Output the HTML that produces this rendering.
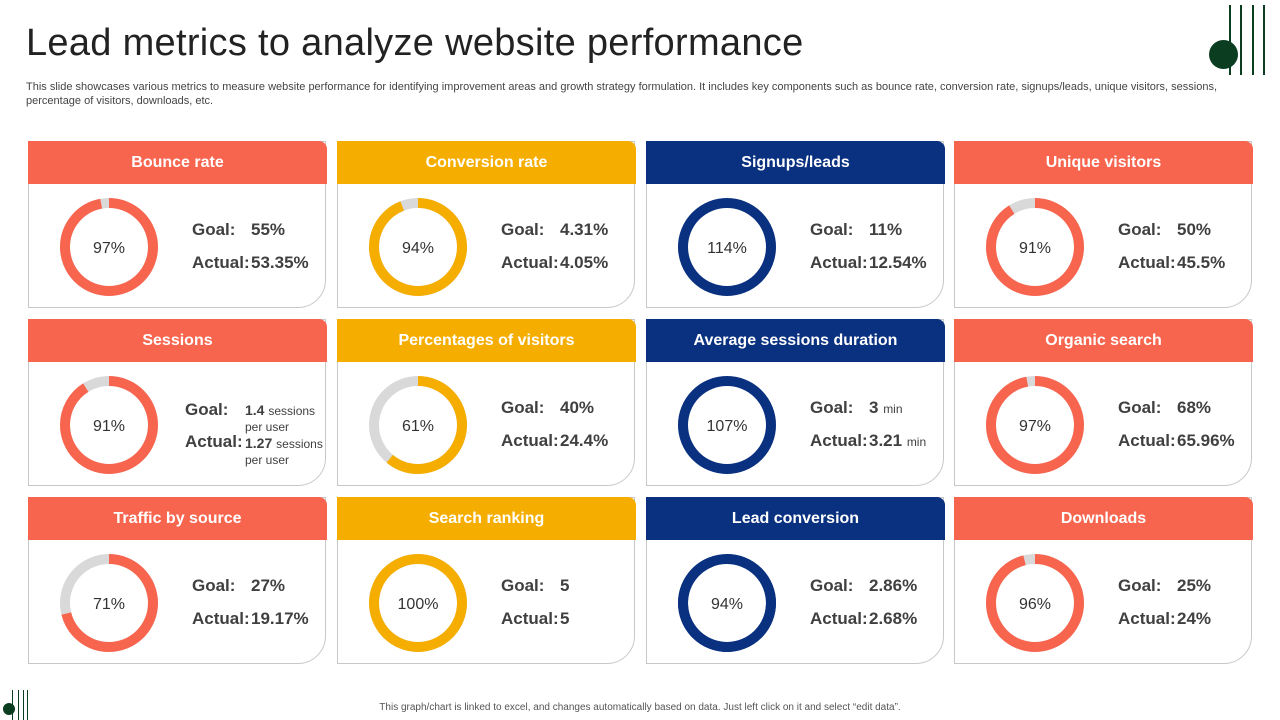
<!DOCTYPE html>
<html><head><meta charset="utf-8"><style>
body{margin:0;width:1280px;height:720px;background:#fff;position:relative;overflow:hidden;font-family:"Liberation Sans",sans-serif;}
h1{position:absolute;left:26px;top:22px;margin:0;font-weight:normal;font-size:38px;color:#222;letter-spacing:0.3px;}
.sub{position:absolute;left:26px;top:80px;width:1220px;font-size:11px;line-height:14px;color:#444;}
.card{position:absolute;width:298px;height:167px;box-sizing:border-box;border:1px solid #c8c8c8;border-bottom-right-radius:28px;background:#fff;}
.hd{position:absolute;left:-1px;top:-1px;width:299px;height:43px;border-top-right-radius:8px;color:#fff;font-weight:bold;font-size:16px;text-align:center;line-height:43px;}
.lbl{position:absolute;font-size:17px;color:#404040;font-weight:bold;}
.unit{font-size:12px;font-weight:normal;}
.foot{position:absolute;top:702px;left:0;width:1280px;text-align:center;font-size:10px;color:#555;}
.vl{position:absolute;width:2px;background:#0b3d20;}
</style></head><body>
<h1>Lead metrics to analyze website performance</h1>
<div class="sub">This slide showcases various metrics to measure website performance for identifying improvement areas and growth strategy formulation. It includes key components such as bounce rate, conversion rate, signups/leads, unique visitors, sessions, percentage of visitors, downloads, etc.</div>
<div class="vl" style="left:1229px;top:5px;height:70px"></div>
<div class="vl" style="left:1240px;top:5px;height:70px"></div>
<div class="vl" style="left:1252px;top:5px;height:70px"></div>
<div class="vl" style="left:1263px;top:5px;height:70px"></div>
<div style="position:absolute;left:1209px;top:40px;width:29px;height:29px;border-radius:50%;background:#0b3d20"></div>
<div class="vl" style="left:12px;top:690px;height:30px;width:1px"></div>
<div class="vl" style="left:18px;top:690px;height:30px;width:1px"></div>
<div class="vl" style="left:23px;top:690px;height:30px;width:1px"></div>
<div class="vl" style="left:27px;top:690px;height:30px;width:1px"></div>
<div style="position:absolute;left:3px;top:703px;width:12px;height:12px;border-radius:50%;background:#0b3d20"></div>
<div class="foot">This graph/chart is linked to excel, and changes automatically based on data. Just left click on it and select “edit data”.</div>
<div id="grid"></div>
<script>
const titles=["Bounce rate","Conversion rate","Signups/leads","Unique visitors","Sessions","Percentages of visitors","Average sessions  duration","Organic search","Traffic by source","Search ranking","Lead conversion","Downloads"];
const percents=[97,94,114,91,91,61,107,97,71,100,94,96];
const goals=["55%","4.31%","11%","50%","1.4","40%","3","68%","27%","5","2.86%","25%"];
const actuals=["53.35%","4.05%","12.54%","45.5%","1.27","24.4%","3.21","65.96%","19.17%","5","2.68%","24%"];
const units=["","","","","sessions","","min","","","","",""];
const colors=["#F8654F","#F5AE00","#0A3080","#F8654F","#F8654F","#F5AE00","#0A3080","#F8654F","#F8654F","#F5AE00","#0A3080","#F8654F"];
const rests=["#d9d9d9","#d9d9d9","#d9d9d9","#d9d9d9","#d9d9d9","#d9d9d9","#d9d9d9","#d9d9d9","#d9d9d9","#d9d9d9","#0A3080","#d9d9d9"];
const colX=[28,337,646,954], rowY=[141,319,497];
const g=document.getElementById('grid');
const R=44,C=2*Math.PI*R;
titles.forEach((t,i)=>{
  const c=document.createElement('div');c.className='card';
  
  
  c.style.left=colX[i%4]+'px';c.style.top=rowY[Math.floor(i/4)]+'px';
  const h=document.createElement('div');h.className='hd';h.style.background=colors[i];h.textContent=t;
  
  
  c.appendChild(h);
  const p=Math.min(percents[i],100)/100;
  const svg=`<svg width="120" height="120" style="position:absolute;left:20px;top:45px">
  <circle cx="60" cy="60" r="${R}" fill="none" stroke="${rests[i]}" stroke-width="10"/>
  <circle cx="60" cy="60" r="${R}" fill="none" stroke="${colors[i]}" stroke-width="10" stroke-dasharray="${p*C} ${C}" transform="rotate(-90 60 60)"/>
  <text x="60" y="66" text-anchor="middle" font-family="Liberation Sans" font-size="16" fill="#333">${percents[i]}%</text></svg>`;
  c.insertAdjacentHTML('beforeend',svg);
  const sess=units[i]==='sessions';
  const lx=sess?156:163, vx=sess?216:222;
  const gy=sess?80:78, ay=sess?112:111;
  const u=units[i]?(sess?` <span class="unit">sessions<br>per user</span>`:` <span class="unit">${units[i]}</span>`):'';
  c.insertAdjacentHTML('beforeend',`<div class="lbl" style="left:${lx}px;top:${gy}px">Goal:</div>
  <div class="lbl" style="left:${vx}px;top:${gy}px;${sess?'font-size:14px;line-height:15px;top:83px':''}">${goals[i]}${u}</div>
  <div class="lbl" style="left:${lx}px;top:${ay}px">Actual:</div>
  <div class="lbl" style="left:${vx}px;top:${ay}px;${sess?'font-size:14px;line-height:15px;top:116px':''}">${actuals[i]}${u}</div>`);
  g.appendChild(c);
});
</script>
</body></html>
